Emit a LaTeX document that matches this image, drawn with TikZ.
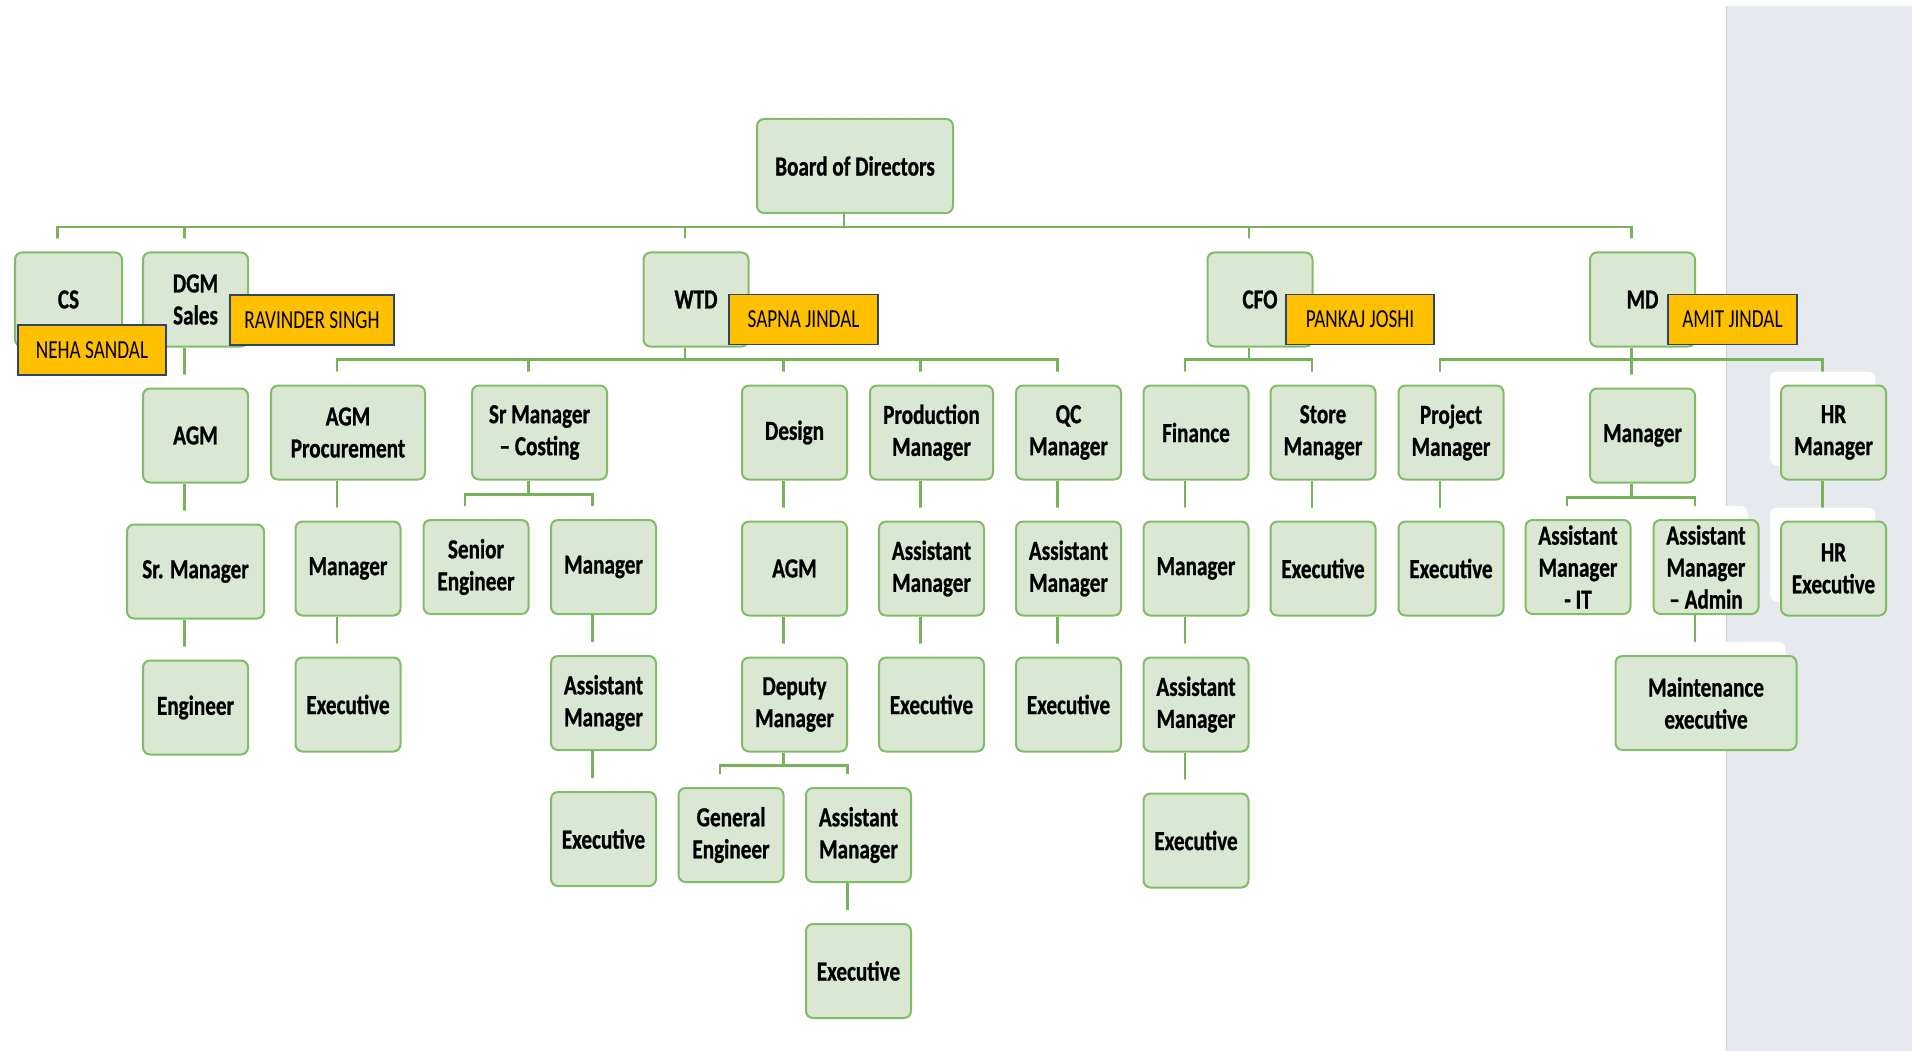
\documentclass[tikz,border=0pt]{standalone}
\usepackage{fontspec}
\setmainfont[FakeStretch=0.77, BoldFeatures={FakeBold=0.8}]{Carlito}
\newfontfamily\tagfont[FakeStretch=0.74]{Carlito}
\usetikzlibrary{positioning,backgrounds,shadows}
\definecolor{boxfill}{HTML}{D9E7D3}
\definecolor{boxline}{HTML}{82BC66}
\definecolor{linkgreen}{HTML}{78B35A}
\definecolor{tagfill}{HTML}{FFC000}
\definecolor{tagline}{HTML}{2F4468}
\definecolor{panel}{HTML}{E6E9ED}
\definecolor{panelline}{HTML}{C9CED4}

\begin{document}
\begin{tikzpicture}[
  x=1pt, y=-1pt,
  node distance=40pt,
  post/.style={
    draw=boxline, fill=boxfill, line width=2pt, rounded corners=7pt,
    minimum width=105pt, minimum height=94pt, inner sep=1pt, align=center,
    font=\bfseries\fontsize{27.5}{32}\selectfont,
    general shadow={fill=white, shadow xshift=-11pt, shadow yshift=14pt},
  },
  holder/.style={
    draw=tagline, fill=tagfill, line width=1.3pt,
    minimum height=50pt, inner sep=0pt,
    font=\tagfont\fontsize{26}{30}\selectfont,
  },
  link/.style={linkgreen, line width=2.2pt},
]
  \useasboundingbox (0,0) rectangle (1912,1051);

  % top
  \node[post, minimum width=196pt] (board) at (855,166) {Board of Directors};

  % first row
  \node[post, minimum width=107pt] (cs) at (68.5,299.5) {CS};
  \node[post] (dgm) at (195.5,299.5) {DGM\\Sales};
  \node[post] (wtd) at (696,299.5) {WTD};
  \node[post] (cfo) at (1260,299.5) {CFO};
  \node[post] (md)  at (1642.5,299.5) {MD};

  % second row
  \node[post, below=of dgm] (agm) {AGM};
  \node[post, minimum width=154pt] (agmproc) at (348,432.5) {AGM\\Procurement};
  \node[post, minimum width=135pt] (costing) at (539.5,432.5) {Sr Manager\\– Costing};
  \node[post] (design) at (794.5,432.5) {Design};
  \node[post, minimum width=123pt] (prodmgr) at (931.5,432.5) {Production\\Manager};
  \node[post] (qcmgr) at (1068.5,432.5) {QC\\Manager};
  \node[post] (finance) at (1196,432.5) {Finance};
  \node[post] (storemgr) at (1323,432.5) {Store\\Manager};
  \node[post] (projmgr) at (1451,432.5) {Project\\Manager};
  \node[post, below=of md] (mdmgr) {Manager};
  \node[post] (hrmgr) at (1833.5,432.5) {HR\\Manager};

  % third row
  \node[post, minimum width=137pt, below=of agm] (srmgr) {Sr. Manager};
  \node[post, below=of agmproc] (procmgr) {Manager};
  \node[post] (srengg) at (476,567) {Senior\\Engineer};
  \node[post] (costmgr) at (603.5,567) {Manager};
  \node[post, below=of design] (designagm) {AGM};
  \node[post, below=of prodmgr] (prodasst) {Assistant\\Manager};
  \node[post, below=of qcmgr] (qcasst) {Assistant\\Manager};
  \node[post, below=of finance] (finmgr) {Manager};
  \node[post, below=of storemgr] (storeexec) {Executive};
  \node[post, below=of projmgr] (projexec) {Executive};
  \node[post] (asstit) at (1578,567) {Assistant\\Manager\\- IT};
  \node[post] (asstadmin) at (1706,567) {Assistant\\Manager\\– Admin};
  \node[post, below=of hrmgr] (hrexec) {HR\\Executive};

  % fourth row
  \node[post, below=of srmgr] (engineer) {Engineer};
  \node[post, below=of procmgr] (procexec) {Executive};
  \node[post, below=of costmgr] (costasst) {Assistant\\Manager};
  \node[post, below=of designagm] (deputy) {Deputy\\Manager};
  \node[post, below=of prodasst] (prodexec) {Executive};
  \node[post, below=of qcasst] (qcexec) {Executive};
  \node[post, below=of finmgr] (finasst) {Assistant\\Manager};
  \node[post, minimum width=181pt, below=of asstadmin] (maint) {Maintenance\\executive};

  % fifth and sixth rows
  \node[post, below=of costasst] (costexec) {Executive};
  \node[post] (genengg) at (731,835) {General\\Engineer};
  \node[post] (depasst) at (858.5,835) {Assistant\\Manager};
  \node[post, below=of finasst] (finexec) {Executive};
  \node[post, below=of depasst] (depexec) {Executive};

  % name tags
  \node[holder, minimum width=148pt] (neha) at (92,350) {NEHA SANDAL};
  \node[holder, minimum width=164pt] (ravinder) at (312,320) {RAVINDER SINGH};
  \node[holder, minimum width=149pt] (sapna) at (803.5,319.5) {SAPNA JINDAL};
  \node[holder, minimum width=148pt] (pankaj) at (1360,319.5) {PANKAJ JOSHI};
  \node[holder, minimum width=129pt] (amit) at (1732.5,319.5) {AMIT JINDAL};

  % panel and connectors
  \begin{scope}[on background layer]
    \fill[panel] (1726,6) rectangle (1912,1051);
    \draw[panelline, line width=1pt] (1726,6) -- (1726,1051);
    \foreach \c in {cs,dgm,wtd,cfo,md}
      \draw[link] ([xshift=-11pt]board.south) -- ++(0,13) -| ([xshift=-11pt]\c.north);
    \foreach \c in {agmproc,costing,design,prodmgr,qcmgr}
      \draw[link] ([xshift=-11pt]wtd.south) -- ++(0,12) -| ([xshift=-11pt]\c.north);
    \foreach \c in {srengg,costmgr}
      \draw[link] ([xshift=-11pt]costing.south) -- ++(0,14) -| ([xshift=-11pt]\c.north);
    \foreach \c in {finance,storemgr}
      \draw[link] ([xshift=-11pt]cfo.south) -- ++(0,12) -| ([xshift=-11pt]\c.north);
    \foreach \c in {projmgr,mdmgr,hrmgr}
      \draw[link] ([xshift=-11pt]md.south) -- ++(0,12) -| ([xshift=-11pt]\c.north);
    \foreach \c in {asstit,asstadmin}
      \draw[link] ([xshift=-11pt]mdmgr.south) -- ++(0,14) -| ([xshift=-11pt]\c.north);
    \foreach \c in {genengg,depasst}
      \draw[link] ([xshift=-11pt]deputy.south) -- ++(0,13) -| ([xshift=-11pt]\c.north);
    \foreach \a/\b in {dgm/agm, agm/srmgr, srmgr/engineer, agmproc/procmgr, procmgr/procexec,
        costmgr/costasst, costasst/costexec, design/designagm, designagm/deputy, depasst/depexec,
        prodmgr/prodasst, prodasst/prodexec, qcmgr/qcasst, qcasst/qcexec,
        finance/finmgr, finmgr/finasst, finasst/finexec, storemgr/storeexec,
        projmgr/projexec, asstadmin/maint, hrmgr/hrexec}
      \draw[link] ([xshift=-11pt]\a.south) -- ([xshift=-11pt]\b.north);
  \end{scope}
\end{tikzpicture}
\end{document}
